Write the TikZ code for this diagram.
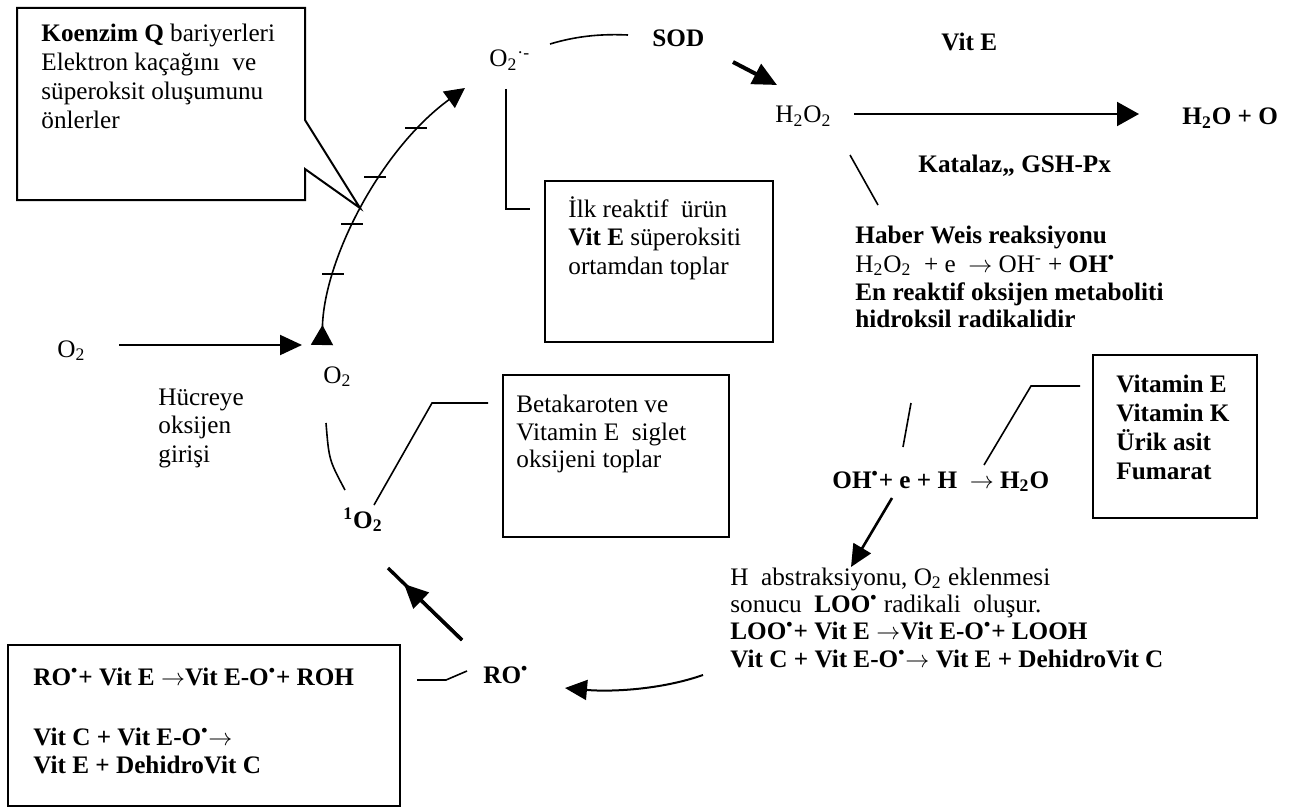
\documentclass[tikz,border=0pt]{standalone}
\usepackage{fontspec}
\setmainfont{Liberation Serif}
\usetikzlibrary{arrows.meta}
\newcommand{\ra}{\ensuremath{\rightarrow}}
\begin{document}
\begin{tikzpicture}[x=0.5pt,y=-0.5pt,
  txt/.style={anchor=base west,inner sep=0pt,font=\fontsize{12.6}{14.6}\selectfont},
  box/.style={draw,line width=1pt,inner sep=0pt},
  ln/.style={line width=0.8pt},
  bighead/.style={-{Triangle[length=11pt,width=10pt]}},
]
\useasboundingbox (0,0) rectangle (1290,808);
\fill[white] (0,0) rectangle (1290,808);

% ---------- callout (Koenzim Q) ----------
\coordinate (tip) at (360,208);
\draw[line width=1pt] (17,8) -| (305,120) -- (tip) -- (305,169) |- (17,200) -- cycle;
\node[txt] (kq1) at (41,42) {\textbf{Koenzim Q} bariyerleri};
\node[txt] (kq2) at (41,71) {Elektron kaçağını\ \ ve};
\node[txt] (kq3) at (41,100) {süperoksit oluşumunu};
\node[txt] (kq4) at (41,128) {önlerler};

% ---------- electron chain curve ----------
\coordinate (cbot) at (322,345);
\coordinate (ctop) at (465,88);
\draw[line width=0.8pt,{Triangle[reversed,length=10pt,width=11pt]}-{Triangle[length=10pt,width=10pt]}]
  (cbot) .. controls (324,260) and (380,150) .. (ctop);
\foreach \p in {(333,274),(352,224),(375,177),(416,128)}
  \draw[ln] \p ++(-11,0) -- ++(22,0);

% ---------- O2 entry ----------
\node[txt] (o2in) at (57,357) {O\textsubscript{2}};
\node[txt] (o2c) at (323,383) {O\textsubscript{2}};
\coordinate (a1s) at (119,345);
\coordinate (a1e) at (302,345);
\draw[line width=1pt,bighead] (a1s) -- (a1e);
\node[txt] (huc1) at (158,405) {Hücreye};
\node[txt] (huc2) at (158,433) {oksijen};
\node[txt] (huc3) at (158,462) {girişi};

% ---------- superoxide / SOD ----------
\node[txt] (o2s) at (489,67) {O\textsubscript{2}\textsuperscript{·-}};
\draw[ln] (550,44) .. controls (580,35) and (605,34) .. (628,35);
\node[txt] (sod) at (652,47) {\textbf{SOD}};
\coordinate (sa) at (733,62);
\coordinate (sb) at (777,85);
\draw[line width=2pt,-{Triangle[length=12pt,width=11pt]}] (sa) -- (sb);

% ---------- Ilk reaktif box ----------
\node[box,minimum width=114pt,minimum height=80.5pt] (ilkbox) at (659,261.5) {};
\node[txt] (ilk1) at (568,217) {İlk reaktif\ \ ürün};
\node[txt] (ilk2) at (568,245) {\textbf{Vit E} süperoksiti};
\node[txt] (ilk3) at (568,274) {ortamdan toplar};
\coordinate (ilkv1) at (506,89);
\coordinate (ilkv2) at (506,209);
\coordinate (ilkv3) at (530,209);
\draw[ln] (ilkv1) -- (ilkv2) -- (ilkv3);

% ---------- H2O2 -> H2O + O ----------
\node[txt] (h2o2) at (775,123) {H\textsubscript{2}O\textsubscript{2}};
\node[txt] (vite) at (941,51) {\textbf{Vit E}};
\coordinate (ha) at (854,114);
\coordinate (hb) at (1139,114);
\draw[line width=1pt,-{Triangle[length=11pt,width=12pt]}] (ha) -- (hb);
\node[txt] (h2oo) at (1182,125) {\textbf{H\textsubscript{2}O + O}};
\node[txt] (kat) at (918,172) {\textbf{Katalaz,, GSH-Px}};
\draw[ln] (850,155) -- (878,205);

% ---------- Haber Weis ----------
\node[txt] (hw1) at (855,243) {\textbf{Haber Weis reaksiyonu}};
\node[txt] (hw2) at (855,272) {H\textsubscript{2}O\textsubscript{2}\ \ + e\ \ \ra{} OH\textsuperscript{-} + \textbf{OH\textsuperscript{•}}};
\node[txt] (hw3) at (855,300) {\textbf{En reaktif oksijen metaboliti}};
\node[txt] (hw4) at (855,327) {\textbf{hidroksil radikalidir}};
\draw[ln] (911,403) -- (903,447);

% ---------- Vitamin box ----------
\node[box,minimum width=82pt,minimum height=81.5pt] (vitbox) at (1175,436.5) {};
\node[txt] (v1) at (1116,392) {\textbf{Vitamin E}};
\node[txt] (v2) at (1116,421) {\textbf{Vitamin K}};
\node[txt] (v3) at (1116,450) {\textbf{Ürik asit}};
\node[txt] (v4) at (1116,479) {\textbf{Fumarat}};
\draw[ln] (984,465) -- (1031,386) -- (1080,386);

% ---------- OH reaction ----------
\node[txt] (ohr) at (832,488) {\textbf{OH\textsuperscript{•}+ e + H\ \ \ra{} H\textsubscript{2}O}};
\coordinate (oa) at (892,498);
\coordinate (ob) at (851,567);
\draw[line width=1.3pt,-{Triangle[length=11pt,width=10pt]}] (oa) -- (ob);

% ---------- H abstraksiyonu block ----------
\node[txt] (ab1) at (730,585) {H\ \ abstraksiyonu, O\textsubscript{2} eklenmesi};
\node[txt] (ab2) at (730,612) {sonucu\ \ \textbf{LOO\textsuperscript{•}} radikali\ \ oluşur.};
\node[txt] (ab3) at (730,639) {\textbf{LOO\textsuperscript{•}+ Vit E \ra{}Vit E-O\textsuperscript{•}+ LOOH}};
\node[txt] (ab4) at (730,667) {\textbf{Vit C + Vit E-O\textsuperscript{•}\ra{} Vit E + DehidroVit C}};

% ---------- RO ----------
\coordinate (ba) at (703,675);
\coordinate (bb) at (565,688);
\draw[line width=1pt,-{Triangle[length=11pt,width=10pt]}] (ba) .. controls (660,690) and (610,692) .. (bb);
\node[txt] (ro) at (483,683) {\textbf{RO\textsuperscript{•}}};
\node[box,minimum width=196pt,minimum height=80.5pt] (robox) at (204,725.5) {};
\node[txt] (rb1) at (33,685) {\textbf{RO\textsuperscript{•}+ Vit E \ra{}Vit E-O\textsuperscript{•}+ ROH}};
\node[txt] (rb2) at (33,745) {\textbf{Vit C + Vit E-O\textsuperscript{•}\ra}};
\node[txt] (rb3) at (33,773) {\textbf{Vit E + DehidroVit C}};
\draw[ln] (417,680) -- (446,680) -- (467,671);
\coordinate (ra) at (462,640);
\coordinate (rc) at (388,568);
\coordinate (rh) at (404,584);
\draw[line width=1.7pt] (ra) -- (rc);
\draw[line width=1.7pt,-{Triangle[length=12pt,width=11pt]}] (ra) -- (rh);

% ---------- singlet oxygen ----------
\node[txt] (o21) at (343,528) {\textbf{\textsuperscript{1}O\textsubscript{2}}};
\draw[ln] (326,423) .. controls (329,460) .. (345,490);
\node[box,minimum width=113pt,minimum height=81pt] (betabox) at (616,456) {};
\node[txt] (b1) at (516,412) {Betakaroten ve};
\node[txt] (b2) at (516,440) {Vitamin E\ \ siglet};
\node[txt] (b3) at (516,467) {oksijeni toplar};
\draw[ln] (374,505) -- (432,403) -- (488,403);
\end{tikzpicture}
\end{document}
